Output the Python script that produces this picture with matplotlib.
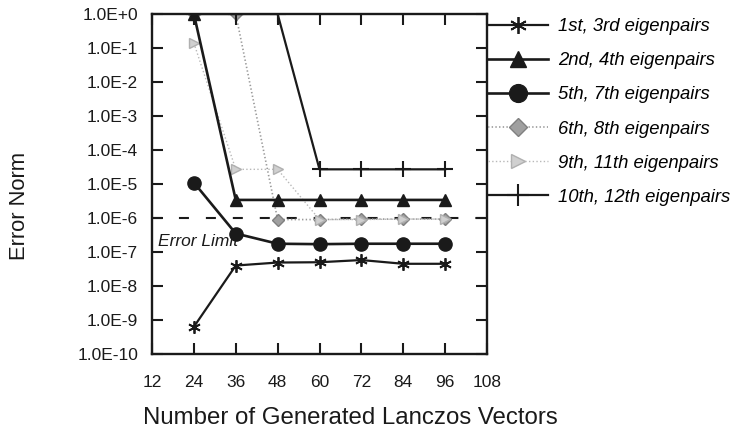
import numpy as np
import matplotlib
matplotlib.use('Agg')
import matplotlib.pyplot as plt
from matplotlib.ticker import FixedLocator, NullLocator

plt.rcParams['font.family'] = ['Liberation Sans', 'DejaVu Sans']
plt.rcParams['lines.scale_dashes'] = False

# Datos
vectors = [24, 36, 48, 60, 72, 84, 96]
err_1_3 = [6.3e-10, 4.0e-8, 4.9e-8, 5.0e-8, 5.8e-8, 4.5e-8, 4.5e-8]
err_2_4 = [1.0, 3.4e-6, 3.4e-6, 3.4e-6, 3.4e-6, 3.4e-6, 3.4e-6]
err_5_7 = [1.1e-5, 3.5e-7, 1.75e-7, 1.7e-7, 1.75e-7, 1.75e-7, 1.75e-7]
err_6_8 = [1.0, 1.0, 9.0e-7, 9.0e-7, 9.3e-7, 9.3e-7, 9.3e-7]
err_9_11 = [1.4e-1, 2.7e-5, 2.7e-5, 9.0e-7, 9.0e-7, 9.3e-7, 9.3e-7]
err_10_12 = [1.0, 1.0, 1.0, 2.7e-5, 2.7e-5, 2.7e-5, 2.7e-5]
error_limit = 1.0e-6

x_ticks = [12, 24, 36, 48, 60, 72, 84, 96, 108]
y_exps = list(range(-10, 1))
y_ticklabels = [f"1.0E{k:+d}" for k in y_exps]

labels = ['1st, 3rd eigenpairs', '2nd, 4th eigenpairs', '5th, 7th eigenpairs',
          '6th, 8th eigenpairs', '9th, 11th eigenpairs', '10th, 12th eigenpairs']

black = '#1a1a1a'

fig = plt.figure(figsize=(7.34, 4.29), dpi=100)
ax = fig.add_axes([152/734, 1 - 354/429, (487 - 152)/734, (354 - 14)/429])

ax.axhline(error_limit, color=black, lw=1.5, dashes=(7.2, 12.2), zorder=1)

ax.plot(vectors, err_1_3, color=black, lw=1.6, marker=(6, 2, 0), ms=9, mew=1.3,
        label=labels[0], zorder=3)
ax.plot(vectors, err_2_4, color=black, lw=1.9, marker='^', ms=8.5,
        label=labels[1], zorder=3)
ax.plot(vectors, err_5_7, color=black, lw=1.9, marker='o', ms=9.5,
        label=labels[2], zorder=3)
ax.plot(vectors, err_6_8, color='#9a9a9a', lw=1.2, ls=':', marker='D', ms=6.5,
        mfc='#a0a0a0', mec='#808080', label=labels[3], zorder=2)
ax.plot(vectors, err_9_11, color='#b8b8b8', lw=1.0, ls=':', marker='>', ms=7,
        mfc='#d0d0d0', mec='#b0b0b0', label=labels[4], zorder=2)
ax.plot(vectors, err_10_12, color=black, lw=1.6, marker='+', ms=12, mew=1.5,
        label=labels[5], zorder=3)

ax.set_yscale('log')
ax.set_xlim(12, 108)
ax.set_ylim(1e-10, 1.0)
ax.xaxis.set_major_locator(FixedLocator(x_ticks))
ax.set_xticklabels([str(v) for v in x_ticks])
ax.yaxis.set_major_locator(FixedLocator([10.0**k for k in y_exps]))
ax.yaxis.set_minor_locator(NullLocator())
ax.set_yticklabels(y_ticklabels)

ax.tick_params(axis='both', which='major', direction='in', length=8, width=1.5,
               top=True, right=True, labelsize=12.5, colors=black)
ax.tick_params(axis='x', pad=15)
ax.tick_params(axis='y', pad=10)
for s in ax.spines.values():
    s.set_linewidth(1.7)
    s.set_color(black)

ax.text(13.6, 2.1e-7, 'Error Limit', style='italic', fontsize=12.5,
        color=black, va='center', ha='left')

fig.text(350/734, 1 - 418/429, 'Number of Generated Lanczos Vectors',
         fontsize=17.3, ha='center', va='center', color=black)
fig.text(20/734, 1 - 206/429, 'Error Norm', fontsize=15.8, rotation=90,
         ha='center', va='center', color=black)

fig.legend(loc='upper left', bbox_to_anchor=(488/734, 1 - 18/429),
           frameon=False, prop={'style': 'italic', 'size': 13.3},
           handlelength=3.25, handletextpad=0.55, labelspacing=0.93,
           borderpad=0, borderaxespad=0, markerscale=1.35)

fig.savefig('out.png', dpi=100, facecolor='white')
